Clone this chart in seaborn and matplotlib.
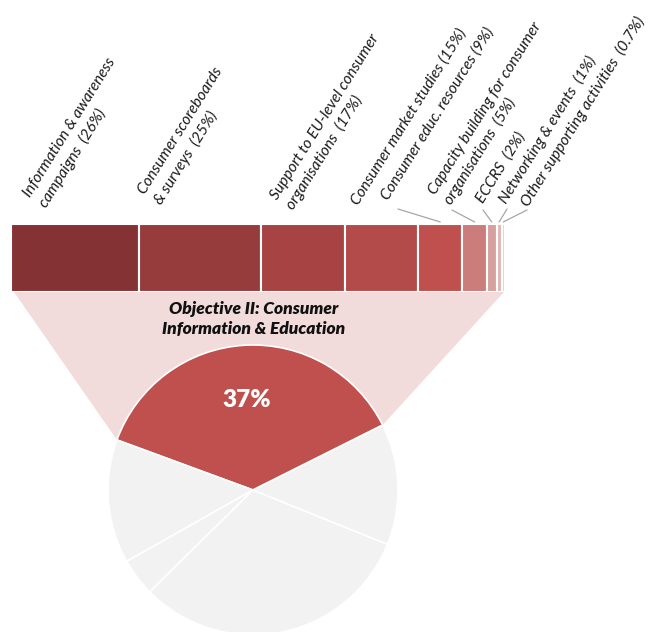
import numpy as np
import matplotlib
matplotlib.use("Agg")
import matplotlib.pyplot as plt
from matplotlib.patches import Polygon
import seaborn as sns

# Breakdown of Objective II budget (percent of the objective)
categories = [
    "Information & awareness\ncampaigns  (26%)",
    "Consumer scoreboards\n& surveys  (25%)",
    "Support to EU-level consumer\norganisations  (17%)",
    "Consumer market studies (15%)",
    "Consumer educ. resources (9%)",
    "Capacity building for consumer\norganisations  (5%)",
    "ECCRS  (2%)",
    "Networking & events  (1%)",
    "Other supporting activities  (0.7%)",
]
shares = [26, 25, 17, 15, 9, 5, 2, 1, 0.7]
bar_colors = ["#843234", "#963C3C", "#A74443", "#B34B4A", "#C0504D",
              "#CB7D7C", "#D6A09F", "#E0B7B6", "#EBCFCE"]

# Share of the whole programme by objective (Objective II highlighted)
objective_shares = [37, 13.8, 4.2, 31.5, 13.5]
objective_label = "37%"
objective_title = "Objective II: Consumer\nInformation & Education"

W, H = 650, 632
sns.set_theme(style="white")
plt.rcParams["font.family"] = ["Lato", "DejaVu Sans"]

fig = plt.figure(figsize=(W / 100, H / 100), dpi=100)
ax = fig.add_axes([0, 0, 1, 1])

# --- pie of objectives ---
pie_center = (253, H - 490)
pie_r = 145
pie_colors = ["#C0504D"] + ["#F2F2F2"] * (len(objective_shares) - 1)
wedges, _ = ax.pie(objective_shares, colors=pie_colors, startangle=26.6,
                   counterclock=True, center=pie_center, radius=pie_r,
                   wedgeprops=dict(edgecolor="white", linewidth=1.2),
                   normalize=True)
for w in wedges:
    w.set_zorder(3)
ax.set_xlim(0, W)
ax.set_ylim(0, H)
ax.set_aspect("equal", adjustable="datalim")
ax.axis("off")

# --- stacked bar of the breakdown ---
bar_left, bar_top, bar_bottom, bar_width = 11, 224, 292, 494
bax = fig.add_axes([bar_left / W, (H - bar_bottom) / H, bar_width / W,
                    (bar_bottom - bar_top) / H])
total = float(np.sum(shares))
lefts = np.concatenate([[0], np.cumsum(shares)[:-1]])
bax.barh([0.5] * len(shares), shares, left=lefts, height=1.0,
         color=bar_colors, edgecolor="white", linewidth=1.5)
bax.set_xlim(0, total)
bax.set_ylim(0, 1)
bax.axis("off")

# --- funnel linking the bar to the highlighted slice ---
red = wedges[0]
t1, t2 = np.deg2rad(red.theta1), np.deg2rad(red.theta2)
cx, cy = pie_center
p_right = (cx + pie_r * np.cos(t1), cy + pie_r * np.sin(t1))
p_left = (cx + pie_r * np.cos(t2), cy + pie_r * np.sin(t2))
funnel = Polygon([(14, H - bar_bottom), (504, H - bar_bottom), p_right, p_left],
                 closed=True, facecolor="#F2DCDB", edgecolor="none", zorder=1)
ax.add_patch(funnel)

ax.text(254, H - 319, objective_title, ha="center", va="center",
        fontsize=12.5, fontweight="heavy", fontstyle="italic", color="#111111",
        linespacing=1.3, zorder=4)
ax.text(cx - 6, H - 400, objective_label, ha="center", va="center",
        fontsize=17.5, fontweight="heavy", color="white", zorder=5)

# --- rotated category labels ---
label_anchor = [(43, 206), (158, 203), (290, 208), (358, 206), (388, 201),
                (448, 203), (483, 204), (506, 204), (528, 207)]
leader_start = {4: (398, 209), 5: (452, 210), 6: (483, 210),
                7: (507, 209), 8: (527, 210)}
for i, (lab, (x, y)) in enumerate(zip(categories, label_anchor)):
    ax.text(x, H - y, lab, rotation=58, rotation_mode="anchor",
            ha="left", va="baseline", multialignment="left",
            fontsize=11.2, fontstyle="italic", color="#1a1a1a",
            linespacing=1.38)
    if i in leader_start:
        sx, sy = leader_start[i]
        mid = lefts[i] + shares[i] / 2
        bax.annotate("", xy=(mid, 1.03), xycoords="data",
                     xytext=(sx, H - sy), textcoords=ax.transData,
                     arrowprops=dict(arrowstyle="-", color="#A6A6A6", lw=0.9,
                                     shrinkA=0, shrinkB=0),
                     annotation_clip=False)

fig.savefig("out.png", dpi=100)
